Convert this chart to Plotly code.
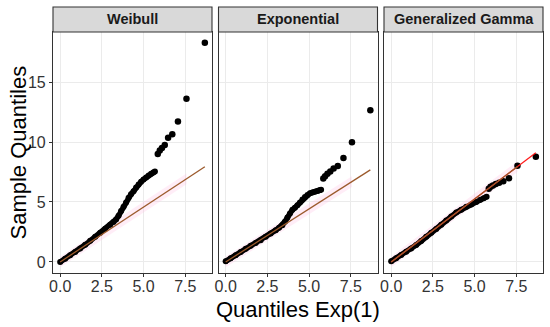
import plotly.graph_objects as go

# ---------------- data ----------------
panels = ["Weibull", "Exponential", "Generalized Gamma"]

weibull_body_x = [0, 0.3, 0.6, 0.9, 1.2, 1.5, 1.8, 2.1, 2.4, 2.7, 3.0, 3.2, 3.35, 3.5, 3.65, 3.8,
                  3.95, 4.1, 4.25, 4.4, 4.55, 4.7, 4.85, 5.0, 5.15, 5.3, 5.45, 5.58, 5.68]
weibull_body_y = [0, 0.27, 0.55, 0.84, 1.13, 1.43, 1.76, 2.1, 2.43, 2.76, 3.1, 3.33, 3.55, 3.85, 4.25, 4.6,
                  4.95, 5.35, 5.65, 5.9, 6.2, 6.45, 6.68, 6.88, 7.05, 7.2, 7.35, 7.45, 7.55]
weibull_tail_x = [5.85, 5.97, 6.10, 6.27, 6.47, 6.72, 7.06, 7.57, 8.67]
weibull_tail_y = [9.0, 9.3, 9.5, 9.75, 10.35, 10.65, 11.7, 13.6, 18.27]

expo_body_x = [0, 0.3, 0.6, 0.9, 1.2, 1.5, 1.8, 2.1, 2.4, 2.7, 3.0, 3.2, 3.4, 3.55, 3.7, 3.85,
               4.0, 4.15, 4.3, 4.45, 4.6, 4.75, 4.9, 5.05, 5.2, 5.35, 5.5, 5.62, 5.72]
expo_body_y = [0.05, 0.3, 0.57, 0.84, 1.1, 1.35, 1.58, 1.82, 2.1, 2.38, 2.65, 2.85, 3.07, 3.35, 3.7, 4.05,
               4.35, 4.52, 4.72, 4.95, 5.2, 5.42, 5.58, 5.72, 5.8, 5.86, 5.92, 5.97, 6.02]
expo_tail_x = [5.85, 5.96, 6.10, 6.27, 6.47, 6.72, 7.06, 7.57, 8.67]
expo_tail_y = [6.95, 7.15, 7.35, 7.55, 7.8, 8.0, 8.67, 9.97, 12.64]

gg_body_x = [0, 0.3, 0.6, 0.9, 1.2, 1.5, 1.8, 2.1, 2.4, 2.7, 3.0, 3.3, 3.6, 3.9, 4.2, 4.5,
             4.8, 5.1, 5.35, 5.55, 5.72]
gg_body_y = [0.05, 0.3, 0.58, 0.86, 1.12, 1.42, 1.75, 2.1, 2.43, 2.75, 3.1, 3.45, 3.8, 4.12, 4.35, 4.6,
             4.8, 5.0, 5.18, 5.32, 5.44]
gg_tail_x = [5.85, 5.96, 6.10, 6.27, 6.47, 6.72, 7.06, 7.57, 8.67]
gg_tail_y = [6.1, 6.28, 6.38, 6.5, 6.6, 6.72, 6.97, 8.03, 8.78]

line_slope = [0.915, 0.885, 1.05]
line_intercept = [0.0, 0.0, 0.0]
band_halfwidth = 0.45

x_tickvals = [0, 2.5, 5.0, 7.5]
x_ticktext = ["0.0", "2.5", "5.0", "7.5"]
y_tickvals = [0, 5, 10, 15]
y_ticktext = ["0", "5", "10", "15"]

bodies = [(weibull_body_x, weibull_body_y), (expo_body_x, expo_body_y), (gg_body_x, gg_body_y)]
tails = [(weibull_tail_x, weibull_tail_y), (expo_tail_x, expo_tail_y), (gg_tail_x, gg_tail_y)]

# ---------------- figure ----------------
W, H = 550, 327
ml, mr, mt, mb = 53, 7, 32, 54
pw = W - ml - mr
ph = H - mt - mb
panel_px = 159
gap_px = (pw - 3 * panel_px) / 2
domains = []
for i in range(3):
    a = i * (panel_px + gap_px) / pw
    domains.append([a, min(1.0, a + panel_px / pw)])

FONT = "Liberation Sans, Arial, sans-serif"
BROWN = "#9c5a2c"
RED = "#ff1a1a"

fig = go.Figure()
for i in range(3):
    xa = "x" if i == 0 else f"x{i+1}"
    ya = "y" if i == 0 else f"y{i+1}"
    bx, by = bodies[i]
    tx, ty = tails[i]
    xmax = tx[-1]
    xmin = bx[0]
    s, c = line_slope[i], line_intercept[i]
    bx_end = tx[-2]
    # faint pink band around the reference line
    fig.add_trace(go.Scatter(
        x=[xmin, bx_end, bx_end, xmin, xmin],
        y=[c + s * xmin - band_halfwidth, c + s * bx_end - band_halfwidth,
           c + s * bx_end + band_halfwidth, c + s * xmin + band_halfwidth,
           c + s * xmin - band_halfwidth],
        fill="toself", fillcolor="rgba(255,190,225,0.28)", line=dict(width=0),
        mode="lines", hoverinfo="skip", showlegend=False, xaxis=xa, yaxis=ya))
    # dense body of points
    fig.add_trace(go.Scatter(
        x=bx, y=by, mode="lines+markers",
        line=dict(color="black", width=5.5),
        marker=dict(color="black", size=6),
        showlegend=False, xaxis=xa, yaxis=ya))
    # tail points
    fig.add_trace(go.Scatter(
        x=tx, y=ty, mode="markers",
        marker=dict(color="black", size=6.5),
        showlegend=False, xaxis=xa, yaxis=ya))
    # reference line
    if i == 2:
        fig.add_trace(go.Scatter(
            x=[xmin, xmax], y=[c + s * xmin, c + s * xmax], mode="lines",
            line=dict(color=RED, width=1.3), showlegend=False, xaxis=xa, yaxis=ya))
        fig.add_trace(go.Scatter(
            x=[xmin, bx_end], y=[c + s * xmin, c + s * bx_end], mode="lines",
            line=dict(color=BROWN, width=1.3), showlegend=False, xaxis=xa, yaxis=ya))
    else:
        fig.add_trace(go.Scatter(
            x=[xmin, xmax], y=[c + s * xmin, c + s * xmax], mode="lines",
            line=dict(color=BROWN, width=1.3), showlegend=False, xaxis=xa, yaxis=ya))

axis_common = dict(
    showgrid=True, gridcolor="#ebebeb", gridwidth=1, zeroline=False,
    showline=True, linecolor="#333333", linewidth=1.1, mirror=True,
    ticks="outside", ticklen=3, tickcolor="#333333", tickwidth=1,
    tickfont=dict(family=FONT, size=16, color="#333333"),
)

layout = dict(
    width=W, height=H, margin=dict(l=ml, r=mr, t=mt, b=mb),
    paper_bgcolor="white", plot_bgcolor="white",
    font=dict(family=FONT),
    shapes=[], annotations=[],
)
for i in range(3):
    xk = "xaxis" if i == 0 else f"xaxis{i+1}"
    yk = "yaxis" if i == 0 else f"yaxis{i+1}"
    xa = "x" if i == 0 else f"x{i+1}"
    ya = "y" if i == 0 else f"y{i+1}"
    layout[xk] = dict(axis_common, domain=domains[i], range=[-0.43, 9.1],
                      tickvals=x_tickvals, ticktext=x_ticktext, anchor=ya,
                      ticklabelstandoff=-4)
    layout[yk] = dict(axis_common, domain=[0, 1], range=[-0.92, 19.17],
                      tickvals=y_tickvals, ticktext=y_ticktext, anchor=xa,
                      showticklabels=(i == 0), ticks="outside" if i == 0 else "")
    strip_h = 25 / ph
    layout["shapes"].append(dict(
        type="rect", xref=f"{xa} domain", yref=f"{ya} domain",
        x0=0, x1=1, y0=1, y1=1 + strip_h,
        fillcolor="#d9d9d9", line=dict(color="#333333", width=1.1), layer="above"))
    layout["annotations"].append(dict(
        text=f"<b>{panels[i]}</b>", xref=f"{xa} domain", yref=f"{ya} domain",
        x=0.5, y=1 + strip_h / 2, showarrow=False, xanchor="center", yanchor="middle",
        font=dict(family=FONT, size=14.5, color="#1a1a1a")))

layout["annotations"].append(dict(
    text="Quantiles Exp(1)", xref="paper", yref="paper", x=0.5, y=-36 / ph,
    showarrow=False, xanchor="center", yanchor="middle",
    font=dict(family=FONT, size=22, color="black")))
layout["annotations"].append(dict(
    text="Sample Quantiles", xref="paper", yref="paper", x=-35 / pw, y=0.5,
    textangle=-90, showarrow=False, xanchor="center", yanchor="middle",
    font=dict(family=FONT, size=22, color="black")))

fig.update_layout(**layout)
fig.write_html("out.html", config={"displayModeBar": False},
               post_script="document.body.style.margin='0';document.body.style.overflow='hidden';")
